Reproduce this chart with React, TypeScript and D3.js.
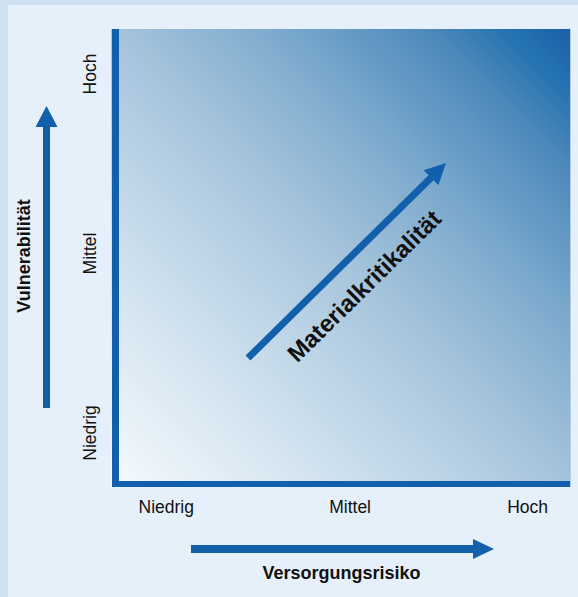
import React from "react";
import * as d3 from "d3";

const levels = ["Niedrig", "Mittel", "Hoch"];
const xAxisTitle = "Versorgungsrisiko";
const yAxisTitle = "Vulnerabilität";
const diagonalTitle = "Materialkritikalität";
const gradientStops: [number, string][] = [
  [0, "#f6fafd"],
  [0.25, "#d0e2ef"],
  [0.5, "#a6c4dc"],
  [0.7, "#76a6cb"],
  [0.85, "#4b87ba"],
  [0.93, "#2573b1"],
  [1, "#1a5ea7"],
];

const W = 578;
const H = 597;
const BLUE = "#1260ab";
const FONT = "'Liberation Sans', Arial, Helvetica, sans-serif";

function arrowPath(x1: number, y1: number, x2: number, y2: number, shaft: number, headLen: number, headHalf: number) {
  const dx = x2 - x1;
  const dy = y2 - y1;
  const L = Math.hypot(dx, dy);
  const ux = dx / L, uy = dy / L;
  const px = -uy, py = ux;
  const bx = x2 - ux * headLen, by = y2 - uy * headLen;
  const s = shaft / 2;
  const p = d3.path();
  p.moveTo(x1 + px * s, y1 + py * s);
  p.lineTo(bx + px * s, by + py * s);
  p.lineTo(bx + px * headHalf, by + py * headHalf);
  p.lineTo(x2, y2);
  p.lineTo(bx - px * headHalf, by - py * headHalf);
  p.lineTo(bx - px * s, by - py * s);
  p.lineTo(x1 - px * s, y1 - py * s);
  p.closePath();
  return p.toString();
}

export default function App() {
  const plot = { left: 111, top: 29, right: 570, bottom: 487 };
  const xLabel = d3.scalePoint<string>().domain(levels).range([194, 548]);
  const yLabel = d3.scalePoint<string>().domain(levels).range([433, 74]);

  return (
    <svg width={W} height={H} style={{ position: "absolute", left: 0, top: 0 }} fontFamily={FONT}>
      <defs>
        <linearGradient id="bg" x1="0" y1="1" x2="1" y2="0">
          {gradientStops.map(([o, c]) => (
            <stop key={o} offset={o} stopColor={c} />
          ))}
        </linearGradient>
      </defs>
      <rect x={0} y={0} width={W} height={H} fill="#cde1f2" />
      <rect x={8} y={5} width={W - 8} height={H - 5} fill="#e6f0fa" />
      <rect
        x={plot.left}
        y={plot.top}
        width={plot.right - plot.left}
        height={plot.bottom - plot.top}
        fill="url(#bg)"
      />
      <line x1={plot.right + 0.5} y1={plot.top} x2={plot.right + 0.5} y2={plot.bottom} stroke="#b7cde0" strokeWidth={1} />
      {/* axes */}
      <rect x={112} y={plot.top} width={7} height={plot.bottom - plot.top} fill={BLUE} />
      <rect x={112} y={481} width={plot.right - 112} height={6} fill={BLUE} />

      {/* x tick labels */}
      {levels.map((l) => (
        <text key={"x" + l} x={xLabel(l)} y={513} textAnchor="end" fontSize={17.5} fill="#111">
          {l}
        </text>
      ))}
      {/* y tick labels */}
      {levels.map((l) => (
        <text
          key={"y" + l}
          transform={`translate(96,${yLabel(l)}) rotate(-90)`}
          textAnchor="middle"
          fontSize={17.5}
          fill="#111"
        >
          {l}
        </text>
      ))}

      {/* axis arrows */}
      <path d={arrowPath(46.5, 408, 46.5, 106, 7, 21, 11)} fill={BLUE} />
      <path d={arrowPath(191, 549, 494, 549, 8, 21, 10)} fill={BLUE} />
      <path d={arrowPath(248, 358, 446, 163, 7, 21, 10.5)} fill={BLUE} />

      <text x={341.5} y={579} textAnchor="middle" fontSize={18} fontWeight="bold" fill="#111">
        {xAxisTitle}
      </text>
      <text
        transform="translate(30,256) rotate(-90)"
        textAnchor="middle"
        fontSize={18}
        fontWeight="bold"
        fill="#111"
      >
        {yAxisTitle}
      </text>
      <text
        transform="translate(370,292) rotate(-44.5)"
        textAnchor="middle"
        fontSize={24}
        fontWeight="bold"
        fill="#111"
      >
        {diagonalTitle}
      </text>
    </svg>
  );
}
